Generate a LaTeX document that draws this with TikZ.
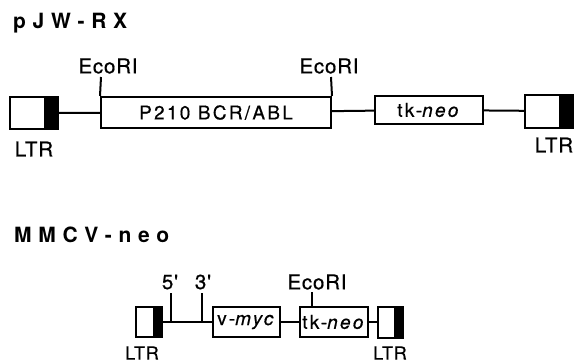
\documentclass[tikz,border=0pt]{standalone}
\usepackage{fontspec}
\setmainfont{TeX Gyre Heros}
\newfontfamily\labelfont{TeX Gyre Heros}[LetterSpace=4,FakeBold=0.6]
\newfontfamily\boxfont{TeX Gyre Heros}[LetterSpace=12,FakeBold=0.6]
\newfontfamily\titlefont{TeX Gyre Heros}[LetterSpace=32]

\begin{document}
\begin{tikzpicture}[x=1pt,y=-1pt,
        box/.style={draw,line width=2pt,inner sep=0pt,minimum height=30pt,
            font=\boxfont\fontsize{19}{19}\selectfont},
        tag/.style={inner sep=0pt,font=\labelfont\fontsize{20.5}{20.5}\selectfont},
        smalltag/.style={tag,font=\labelfont\fontsize{18}{18}\selectfont},
        title/.style={inner sep=0pt,anchor=base west,
            font=\titlefont\bfseries\fontsize{21}{21}\selectfont}]
    \useasboundingbox (0,0) rectangle (574,364);

    % pJW-RX construct
    \node[title] (pjw) at (13,28) {pJW-RX};
    \node[box,minimum width=48pt,minimum height=32pt] (ltrA) at (34,113) {};
    \node[box,minimum width=230pt,minimum height=31pt] (p210) at (216,112.5) {P210 BCR/ABL};
    \node[box,minimum width=108pt,minimum height=28pt] (tkA) at (429,110) {tk-\textit{neo}};
    \node[box,minimum width=48pt,minimum height=33pt] (ltrB) at (549,111) {};

    \node[tag] (ltrAtag) at (34,149) {LTR};
    \node[tag] (ltrBtag) at (554,145) {LTR};
    \node[tag] (ecoAtag) at (108,66) {EcoRI};
    \node[tag] (ecoBtag) at (329,66) {EcoRI};
    \coordinate (cutA) at (101,77);
    \coordinate (cutB) at (331,77);

    % MMCV-neo construct
    \node[title] (mmcv) at (14,242) {MMCV-neo};
    \node[box,minimum width=26pt] (ltrC) at (149,322) {};
    \node[box,minimum width=67pt] (myc) at (246.5,322) {v-\textit{myc}};
    \node[box,minimum width=68pt] (tkB) at (334,322) {tk-\textit{neo}};
    \node[box,minimum width=25pt,minimum height=31pt] (ltrD) at (390,322) {};

    \node[smalltag] (ltrCtag) at (142,353) {LTR};
    \node[smalltag] (ltrDtag) at (390,353) {LTR};
    \node[tag] (fivetag) at (170,282) {5'};
    \node[tag] (threetag) at (203,282) {3'};
    \node[tag] (ecoCtag) at (317,282) {EcoRI};
    \coordinate (five) at (171,293);
    \coordinate (three) at (202,293);
    \coordinate (cutC) at (312,292);

    % Black ends of the LTRs
    \fill ([xshift=-15pt]ltrA.north east) rectangle (ltrA.south east);
    \fill ([xshift=-15pt]ltrB.north east) rectangle (ltrB.south east);
    \fill ([xshift=-10pt]ltrC.north east) rectangle (ltrC.south east);
    \fill ([xshift=-10pt]ltrD.north east) rectangle (ltrD.south east);

    % Links in pJW-RX
    \draw[line width=2pt] (ltrA) -- (p210);
    \draw[line width=2pt] (p210) -- (tkA);
    \draw[line width=2pt] (tkA) -- (ltrB);

    % EcoRI sites in pJW-RX
    \draw[line width=2pt] (p210.north west) -- (cutA);
    \draw[line width=2pt] (p210.north east) -- (cutB);

    % Links in MMCV-neo
    \draw[line width=2pt] (ltrC) -- (myc);
    \draw[line width=2pt] (myc) -- (tkB);
    \draw[line width=2pt] (tkB) -- (ltrD);

    % Sites in MMCV-neo
    \draw[line width=2pt] (five) -- (five |- ltrC.east);
    \draw[line width=2pt] (three) -- (three |- ltrC.east);
    \draw[line width=2pt] (tkB.north -| cutC) -- (cutC);
\end{tikzpicture}
\end{document}
